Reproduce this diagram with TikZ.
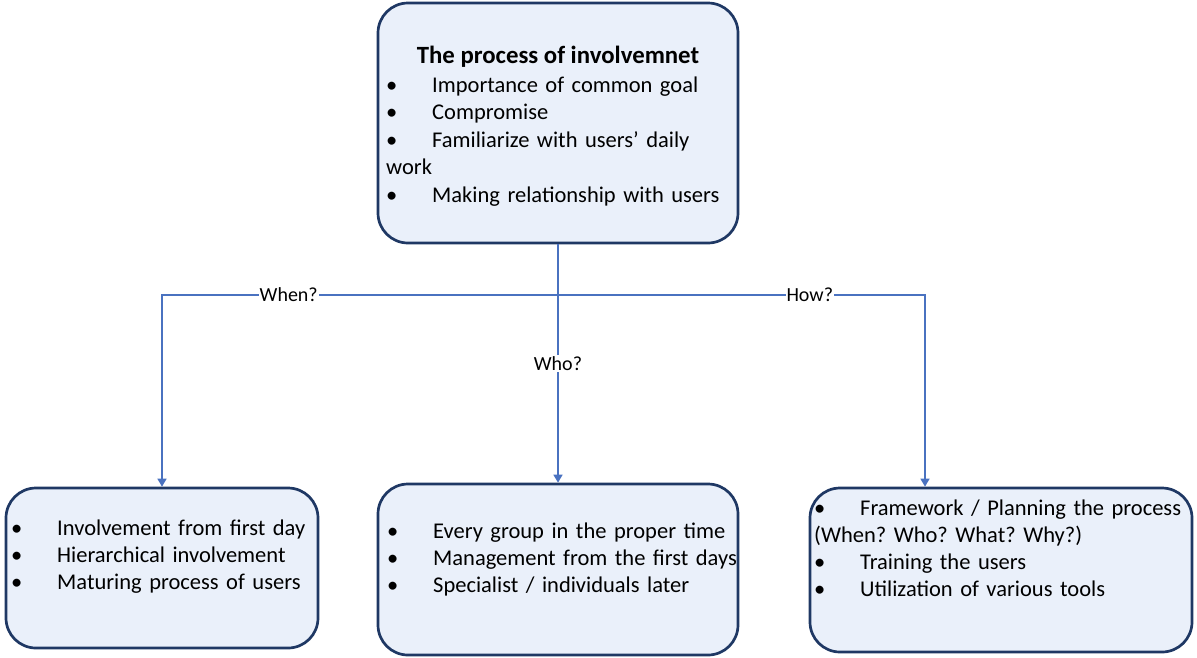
\documentclass[tikz,border=0pt]{standalone}
\usepackage{fontspec}
\setmainfont{Carlito}
\usetikzlibrary{arrows.meta}
\frenchspacing

\definecolor{boxfill}{HTML}{EAF0FA}
\definecolor{boxline}{HTML}{1F3864}
\definecolor{linkblue}{HTML}{4A72C0}

% bullet with hanging indent
\newcommand{\itm}[1]{\makebox[46pt][l]{\textbullet}#1}

\tikzset{
  infobox/.style={draw=boxline, fill=boxfill, line width=2.7pt, rounded corners=30pt, inner sep=0pt},
  link/.style={draw=linkblue, line width=1.5pt},
  arrowlink/.style={link, -{Triangle[width=9pt,length=8pt]}},
  qlabel/.style={fill=white, inner sep=1pt, font=\fontsize{20}{24}\selectfont},
  boxtext/.style={anchor=base west, inner sep=0pt, align=left, text width=380pt,
    font=\fontsize{22.5}{27.5}\selectfont},
}

\begin{document}
\begin{tikzpicture}[x=1pt,y=-1pt]
  \useasboundingbox (0,0) rectangle (1197,657);

  % boxes
  \node[infobox, minimum width=360pt, minimum height=240pt] (involve) at (558,123) {};
  \node[infobox, minimum width=312pt, minimum height=160pt] (when) at (162,568) {};
  \node[infobox, minimum width=360pt, minimum height=171pt] (who) at (558,569.5) {};
  \node[infobox, minimum width=382pt, minimum height=164pt] (how) at (1001,570) {};

  % texts
  \node[anchor=base, font=\bfseries\fontsize{24.8}{28}\selectfont] (title) at (558,63) {The process of involvemnet};
  \node[boxtext] (involvetext) at (386,92) {\itm{Importance of common goal}\\
    \itm{Compromise}\\
    \itm{Familiarize with users’ daily}\\
    work\\
    \itm{Making relationship with users}};
  \node[boxtext, font=\fontsize{22.5}{27}\selectfont] (whentext) at (11,535) {\itm{Involvement from first day}\\
    \itm{Hierarchical involvement}\\
    \itm{Maturing process of users}};
  \node[boxtext, font=\fontsize{22.5}{27}\selectfont] (whotext) at (387,538) {\itm{Every group in the proper time}\\
    \itm{Management from the first days}\\
    \itm{Specialist / individuals later}};
  \node[boxtext, font=\fontsize{22.5}{27.3}\selectfont] (howtext) at (814,515) {\itm{Framework / Planning the process}\\
    (When? Who? What? Why?)\\
    \itm{Training the users}\\
    \itm{Utilization of various tools}};

  % connectors
  \coordinate (split) at (558,295);
  \draw[arrowlink] (involve.south) -- node[qlabel] (wholbl) {Who?} (who.north);
  \draw[arrowlink] (split) -| node[qlabel, pos=0.34] (whenlbl) {When?} (when.north);
  \draw[arrowlink] (split) -| node[qlabel, pos=0.343] (howlbl) {How?} ([xshift=-76pt]how.north);
\end{tikzpicture}
\end{document}
